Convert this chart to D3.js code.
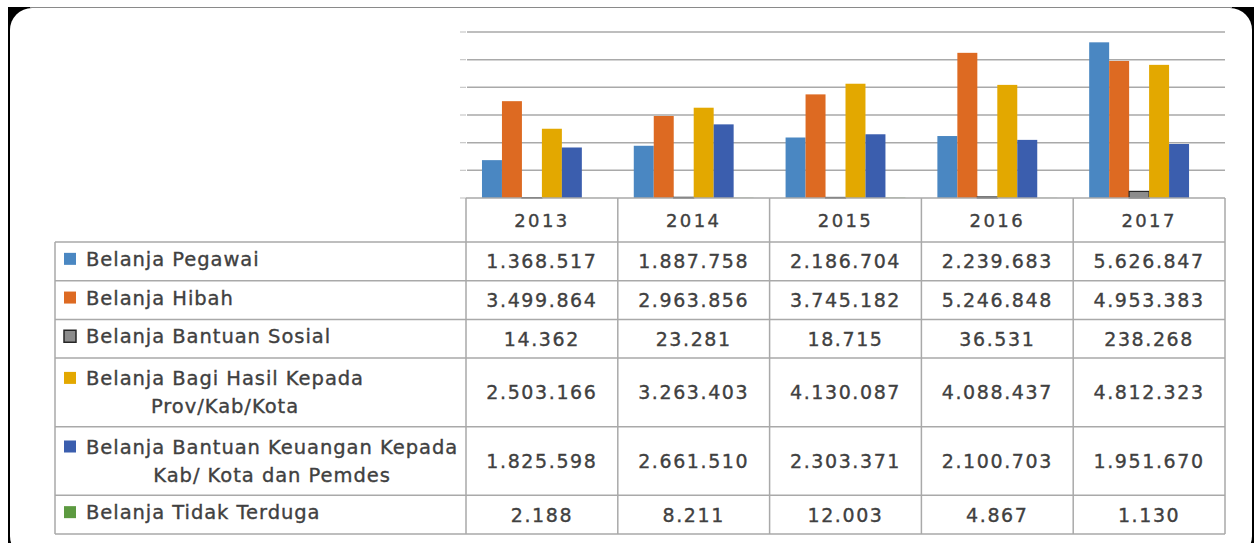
<!DOCTYPE html>
<html>
<head>
<meta charset="utf-8">
<script src="https://cdn.jsdelivr.net/npm/d3@7"></script>
<style>
  html, body { margin: 0; padding: 0; background: #ffffff; }
  svg { display: block; }
  text { paint-order: stroke; }
</style>
</head>
<body>
<svg id="chart" width="1260" height="543"></svg>
<script>
// ---------- DATA ----------
const years = ["2013", "2014", "2015", "2016", "2017"];
const seriesNames = [
  ["Belanja Pegawai"],
  ["Belanja Hibah"],
  ["Belanja Bantuan Sosial"],
  ["Belanja Bagi Hasil Kepada", "Prov/Kab/Kota"],
  ["Belanja Bantuan Keuangan Kepada", "Kab/ Kota dan Pemdes"],
  ["Belanja Tidak Terduga"]
];
const pegawai      = [1368517, 1887758, 2186704, 2239683, 5626847];
const hibah        = [3499864, 2963856, 3745182, 5246848, 4953383];
const bantuanSos   = [14362, 23281, 18715, 36531, 238268];
const bagiHasil    = [2503166, 3263403, 4130087, 4088437, 4812323];
const bantuanKeu   = [1825598, 2661510, 2303371, 2100703, 1951670];
const tidakTerduga = [2188, 8211, 12003, 4867, 1130];
const yTicks = [0, 1000000, 2000000, 3000000, 4000000, 5000000, 6000000];

const seriesValues = [pegawai, hibah, bantuanSos, bagiHasil, bantuanKeu, tidakTerduga];
const colors = ["#4a87c2", "#dd6a22", "#8c8c8c", "#e3a800", "#3b5eae", "#5c9a40"];
const strokes = [null, null, "#262626", null, null, null];

const fmt = v => d3.format(",")(v).replace(/,/g, ".");

// ---------- LAYOUT ----------
const svg = d3.select("#chart");
const plotLeft = 466, plotRight = 1225, plotTop = 32, baseY = 198;
const tableLeft = 55, headerBottom = 242;
const rowH1 = 38.7, rowH2 = 68.6;
const textColor = "#404040";
const gridColor = "#a9a9a9";

// frame
svg.append("rect").attr("x", 8).attr("y", 7).attr("width", 1246).attr("height", 536).attr("fill", "#000");
svg.append("rect").attr("x", 10).attr("y", 8).attr("width", 1242).attr("height", 550)
  .attr("rx", 22).attr("ry", 22).attr("fill", "#fff");
svg.append("line").attr("x1", 30).attr("x2", 1232).attr("y1", 7.5).attr("y2", 7.5)
  .attr("stroke", "#8a8a8a").attr("stroke-width", 1);

// scales
const x0 = d3.scaleBand().domain(years).range([plotLeft, plotRight]).padding(0);
const x1 = d3.scaleBand().domain(d3.range(seriesValues.length))
  .range([0, x0.bandwidth()]).paddingInner(0).paddingOuter(0.8);
const y = d3.scaleLinear().domain([0, 6000000]).range([baseY, plotTop]);

// gridlines
svg.append("g").selectAll("line").data(yTicks.slice(1)).join("line")
  .attr("x1", plotLeft + 1).attr("x2", plotRight)
  .attr("y1", d => y(d)).attr("y2", d => y(d))
  .attr("stroke", gridColor).attr("stroke-width", 1.5);
// small tick marks on left
svg.append("g").selectAll("line").data(yTicks).join("line")
  .attr("x1", plotLeft - 6).attr("x2", plotLeft)
  .attr("y1", d => y(d)).attr("y2", d => y(d))
  .attr("stroke", "#c8c8c8").attr("stroke-width", 1.2);

// bars
const barsG = svg.append("g");
seriesValues.forEach((vals, si) => {
  barsG.append("g").selectAll("rect").data(vals).join("rect")
    .attr("x", (d, i) => x0(years[i]) + x1(si))
    .attr("width", x1.bandwidth())
    .attr("y", d => y(d))
    .attr("height", d => baseY - y(d))
    .attr("fill", colors[si])
    .attr("stroke", strokes[si])
    .attr("stroke-width", strokes[si] ? 1.2 : 0);
});

// ---------- TABLE ----------
const rows = [];
let yy = headerBottom;
seriesNames.forEach((lines, i) => {
  const h = lines.length > 1 ? rowH2 : rowH1;
  rows.push({ top: yy, h: h, lines: lines, idx: i });
  yy += h;
});
const tableBottom = yy;

const tg = svg.append("g");
// horizontal lines
tg.append("line").attr("x1", plotLeft).attr("x2", plotRight).attr("y1", baseY).attr("y2", baseY)
  .attr("stroke", gridColor).attr("stroke-width", 1.5);
[headerBottom].concat(rows.map(r => r.top + r.h)).forEach(v => {
  tg.append("line").attr("x1", tableLeft).attr("x2", plotRight).attr("y1", v).attr("y2", v)
    .attr("stroke", gridColor).attr("stroke-width", 1.5);
});
// vertical lines
tg.append("line").attr("x1", tableLeft).attr("x2", tableLeft).attr("y1", headerBottom).attr("y2", tableBottom)
  .attr("stroke", gridColor).attr("stroke-width", 1.5);
years.forEach(yr => {
  tg.append("line").attr("x1", x0(yr)).attr("x2", x0(yr)).attr("y1", baseY).attr("y2", tableBottom)
    .attr("stroke", gridColor).attr("stroke-width", 1.5);
});
tg.append("line").attr("x1", plotRight).attr("x2", plotRight).attr("y1", baseY).attr("y2", tableBottom)
  .attr("stroke", gridColor).attr("stroke-width", 1.5);

function styleText(sel, size, ls) {
  return sel.attr("font-family", "DejaVu Sans")
    .attr("font-size", size)
    .attr("letter-spacing", ls)
    .attr("fill", textColor)
    .attr("stroke", textColor)
    .attr("stroke-width", 0.35);
}

// header years
styleText(tg.selectAll("text.yr").data(years).join("text")
  .attr("class", "yr")
  .attr("x", d => x0(d) + x0.bandwidth() / 2)
  .attr("y", (baseY + headerBottom) / 2 + 6.5)
  .attr("text-anchor", "middle"), 18, 2.4)
  .text(d => d);

// rows
rows.forEach(r => {
  const cy = r.top + r.h / 2;
  const vals = seriesValues[r.idx];
  // values
  styleText(tg.append("g").selectAll("text").data(vals).join("text")
    .attr("x", (d, i) => x0(years[i]) + x0.bandwidth() / 2)
    .attr("y", cy + 7)
    .attr("text-anchor", "middle"), 19, 1.6)
    .text(d => fmt(d));
  // legend label
  const lineCenters = r.lines.length > 1 ? [cy - 14.5, cy + 14] : [cy - 2.5];
  // marker
  tg.append("rect")
    .attr("x", 64).attr("y", lineCenters[0] - 6)
    .attr("width", 12).attr("height", 12)
    .attr("fill", colors[r.idx])
    .attr("stroke", strokes[r.idx] || "none")
    .attr("stroke-width", strokes[r.idx] ? 1.5 : 0);
  const textStart = 86;
  const t1 = styleText(tg.append("text")
    .attr("x", textStart).attr("y", lineCenters[0] + 7), 19.5, 0.95)
    .text(r.lines[0]);
  if (r.lines.length > 1) {
    const w = t1.node().getComputedTextLength();
    const cx = textStart + w / 2;
    t1.attr("x", cx).attr("text-anchor", "middle");
    styleText(tg.append("text")
      .attr("x", cx).attr("y", lineCenters[1] + 7)
      .attr("text-anchor", "middle"), 19.5, 0.95)
      .text(r.lines[1]);
  }
});
</script>
</body>
</html>
